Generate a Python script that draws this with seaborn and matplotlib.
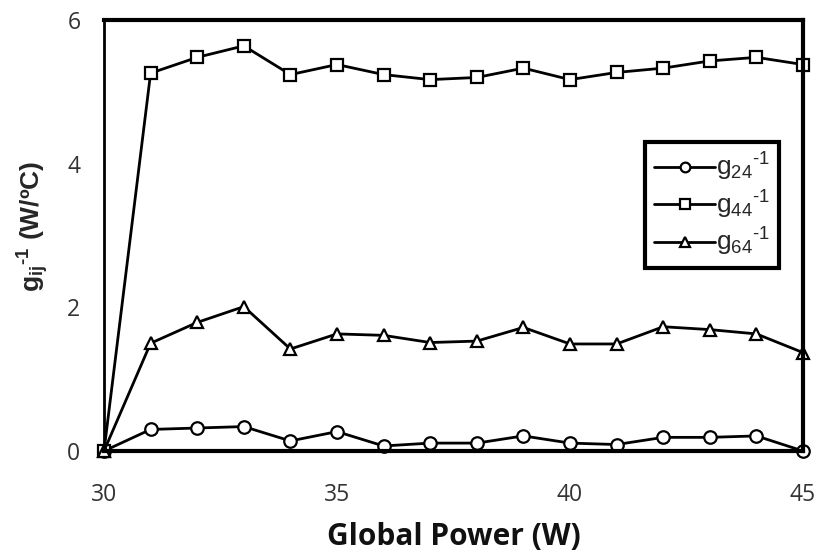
import pandas as pd
import matplotlib
matplotlib.use("Agg")
import matplotlib.pyplot as plt
import seaborn as sns
from matplotlib.ticker import MultipleLocator

# ------ DATA ------ #

power = [30, 31, 32, 33, 34, 35, 36, 37, 38, 39, 40, 41, 42, 43, 44, 45]
g24 = [0.0, 0.30, 0.32, 0.34, 0.14, 0.27, 0.07, 0.11, 0.11, 0.21, 0.11, 0.09, 0.19, 0.19, 0.21, 0.0]
g44 = [0.0, 5.26, 5.48, 5.64, 5.24, 5.38, 5.24, 5.17, 5.20, 5.33, 5.17, 5.27, 5.33, 5.43, 5.48, 5.38]
g64 = [0.0, 1.50, 1.79, 2.01, 1.42, 1.63, 1.61, 1.51, 1.53, 1.72, 1.49, 1.49, 1.73, 1.69, 1.63, 1.37]

series_names = [r"g$\mathregular{_{24}}$$\mathregular{^{‐1}}$",
                r"g$\mathregular{_{44}}$$\mathregular{^{‐1}}$",
                r"g$\mathregular{_{64}}$$\mathregular{^{‐1}}$"]
series_markers = ["o", "s", "^"]

df = pd.concat([
    pd.DataFrame({"power": power, "g": vals, "series": name})
    for name, vals in zip(series_names, [g24, g44, g64])
])

# ------ PLOT ------ #

sns.set_style("white")
plt.rcParams["font.family"] = ["Open Sans", "DejaVu Sans"]
plt.rcParams["mathtext.fontset"] = "custom"
plt.rcParams["mathtext.rm"] = "Liberation Sans"

fig = plt.figure(figsize=(8.16, 5.53), dpi=100)
ax = fig.add_axes([104 / 816, 1 - 451 / 553, (803 - 104) / 816, (451 - 20) / 553])

sns.lineplot(data=df, x="power", y="g", style="series",
             markers=dict(zip(series_names, series_markers)), dashes=False,
             color="black", linewidth=2, markersize=9,
             markerfacecolor="white", markeredgecolor="black",
             markeredgewidth=1.6, ax=ax, clip_on=False, legend=False)

ax.set_xlim(30, 45)
ax.set_ylim(0, 6)
ax.xaxis.set_major_locator(MultipleLocator(5))
ax.xaxis.set_minor_locator(MultipleLocator(1))
ax.yaxis.set_major_locator(MultipleLocator(2))
ax.yaxis.set_minor_locator(MultipleLocator(1))
ax.tick_params(axis="both", which="both", direction="in", color="#aaaaaa",
               length=5, labelsize=16.5, labelcolor="#333333")
ax.tick_params(axis="x", which="major", pad=23)
ax.tick_params(axis="y", which="major", pad=17)

for sp in ax.spines.values():
    sp.set_visible(True)
    sp.set_color("black")
    sp.set_linewidth(3)
ax.spines["left"].set_linewidth(2)

ax.set_xlabel("Global Power (W)", fontsize=21.5, fontweight="bold", labelpad=11,
              color="#111111")
ax.set_ylabel(r"g$\mathregular{_{ij}}$$\mathregular{^{‐1}}$ (W/ºC)",
              fontsize=19, fontweight="bold",
              family=["Liberation Sans", "DejaVu Sans"])
ax.yaxis.set_label_coords(-0.076, 0.52)

handles = [plt.Line2D([], [], color="black", linewidth=2, marker=m, markersize=7,
                      markerfacecolor="white", markeredgecolor="black",
                      markeredgewidth=1.6)
           for m in series_markers]
leg = ax.legend(handles, series_names, loc="upper left",
                bbox_to_anchor=(0.774, 0.717), borderaxespad=0,
                frameon=True, framealpha=1, fancybox=False,
                prop={"family": "Liberation Sans", "size": 19},
                handlelength=2.3, handletextpad=0.05, labelspacing=0.2,
                borderpad=0.35)
leg.get_frame().set_edgecolor("black")
leg.get_frame().set_linewidth(3)

fig.savefig("out.png", dpi=100)
